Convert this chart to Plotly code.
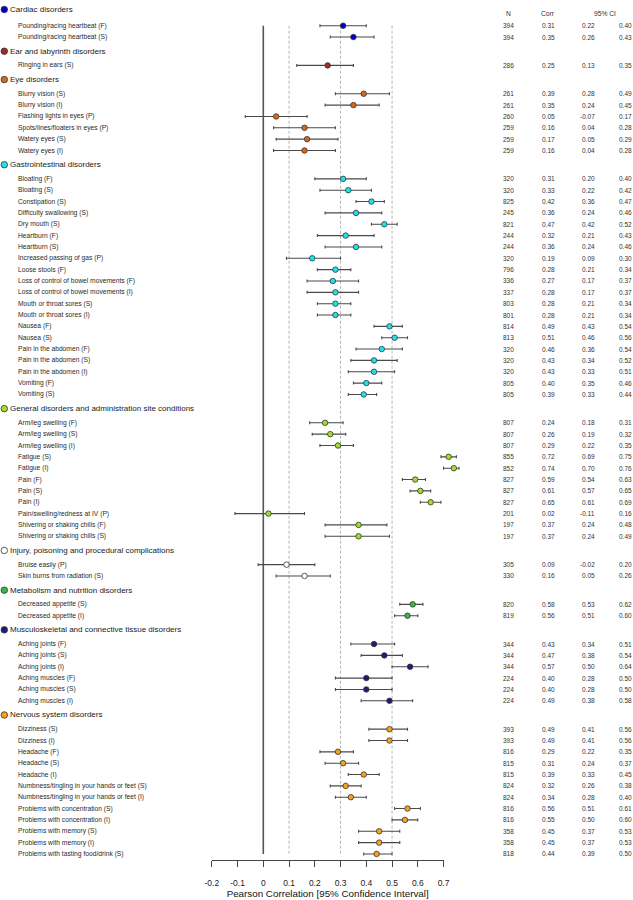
import plotly.graph_objects as go

# ---------------- data ----------------
GROUPS = [
    "Cardiac disorders",
    "Ear and labyrinth disorders",
    "Eye disorders",
    "Gastrointestinal disorders",
    "General disorders and administration site conditions",
    "Injury, poisoning and procedural complications",
    "Metabolism and nutrition disorders",
    "Musculoskeletal and connective tissue disorders",
    "Nervous system disorders",
]
GROUP_COLORS = ["#0000cd", "#9e2a2b", "#d2691e", "#1ee3ea", "#a4dc2c",
                "#ffffff", "#3cb54a", "#1c1c7a", "#f5a21c"]

ITEM_GROUP = [0, 0,
              1,
              2, 2, 2, 2, 2, 2,
              3, 3, 3, 3, 3, 3, 3, 3, 3, 3, 3, 3, 3, 3, 3, 3, 3, 3, 3, 3,
              4, 4, 4, 4, 4, 4, 4, 4, 4, 4, 4,
              5, 5,
              6, 6,
              7, 7, 7, 7, 7, 7,
              8, 8, 8, 8, 8, 8, 8, 8, 8, 8, 8, 8]

ITEM_LABELS = [
    "Pounding/racing heartbeat (F)", "Pounding/racing heartbeat (S)",
    "Ringing in ears (S)",
    "Blurry vision (S)", "Blurry vision (I)", "Flashing lights in eyes (P)",
    "Spots/lines/floaters in eyes (P)", "Watery eyes (S)", "Watery eyes (I)",
    "Bloating (F)", "Bloating (S)", "Constipation (S)", "Difficulty swallowing (S)",
    "Dry mouth (S)", "Heartburn (F)", "Heartburn (S)", "Increased passing of gas (P)",
    "Loose stools (F)", "Loss of control of bowel movements (F)",
    "Loss of control of bowel movements (I)", "Mouth or throat sores (S)",
    "Mouth or throat sores (I)", "Nausea (F)", "Nausea (S)",
    "Pain in the abdomen (F)", "Pain in the abdomen (S)", "Pain in the abdomen (I)",
    "Vomiting (F)", "Vomiting (S)",
    "Arm/leg swelling (F)", "Arm/leg swelling (S)", "Arm/leg swelling (I)",
    "Fatigue (S)", "Fatigue (I)", "Pain (F)", "Pain (S)", "Pain (I)",
    "Pain/swelling/redness at IV (P)", "Shivering or shaking chills (F)",
    "Shivering or shaking chills (S)",
    "Bruise easily (P)", "Skin burns from radiation (S)",
    "Decreased appetite (S)", "Decreased appetite (I)",
    "Aching joints (F)", "Aching joints (S)", "Aching joints (I)",
    "Aching muscles (F)", "Aching muscles (S)", "Aching muscles (I)",
    "Dizziness (S)", "Dizziness (I)", "Headache (F)", "Headache (S)", "Headache (I)",
    "Numbness/tingling in your hands or feet (S)",
    "Numbness/tingling in your hands or feet (I)",
    "Problems with concentration (S)", "Problems with concentration (I)",
    "Problems with memory (S)", "Problems with memory (I)",
    "Problems with tasting food/drink (S)",
]

N_VALUES = [394, 394,
            286,
            261, 261, 260, 259, 259, 259,
            320, 320, 825, 245, 821, 244, 244, 320, 796, 336, 337, 803, 801,
            814, 813, 320, 320, 320, 805, 805,
            807, 807, 807, 855, 852, 827, 827, 827, 201, 197, 197,
            305, 330,
            820, 819,
            344, 344, 344, 224, 224, 224,
            393, 393, 816, 815, 815, 824, 824, 816, 816, 358, 358, 818]

CORR = [0.31, 0.35,
        0.25,
        0.39, 0.35, 0.05, 0.16, 0.17, 0.16,
        0.31, 0.33, 0.42, 0.36, 0.47, 0.32, 0.36, 0.19, 0.28, 0.27, 0.28, 0.28, 0.28,
        0.49, 0.51, 0.46, 0.43, 0.43, 0.40, 0.39,
        0.24, 0.26, 0.29, 0.72, 0.74, 0.59, 0.61, 0.65, 0.02, 0.37, 0.37,
        0.09, 0.16,
        0.58, 0.56,
        0.43, 0.47, 0.57, 0.40, 0.40, 0.49,
        0.49, 0.49, 0.29, 0.31, 0.39, 0.32, 0.34, 0.56, 0.55, 0.45, 0.45, 0.44]

CI_LOW = [0.22, 0.26,
          0.13,
          0.28, 0.24, -0.07, 0.04, 0.05, 0.04,
          0.20, 0.22, 0.36, 0.24, 0.42, 0.21, 0.24, 0.09, 0.21, 0.17, 0.17, 0.21, 0.21,
          0.43, 0.46, 0.36, 0.34, 0.33, 0.35, 0.33,
          0.18, 0.19, 0.22, 0.69, 0.70, 0.54, 0.57, 0.61, -0.11, 0.24, 0.24,
          -0.02, 0.05,
          0.53, 0.51,
          0.34, 0.38, 0.50, 0.28, 0.28, 0.38,
          0.41, 0.41, 0.22, 0.24, 0.33, 0.26, 0.28, 0.51, 0.50, 0.37, 0.37, 0.39]

CI_HIGH = [0.40, 0.43,
           0.35,
           0.49, 0.45, 0.17, 0.28, 0.29, 0.28,
           0.40, 0.42, 0.47, 0.46, 0.52, 0.43, 0.46, 0.30, 0.34, 0.37, 0.37, 0.34, 0.34,
           0.54, 0.56, 0.54, 0.52, 0.51, 0.46, 0.44,
           0.31, 0.32, 0.35, 0.75, 0.76, 0.63, 0.65, 0.69, 0.16, 0.48, 0.49,
           0.20, 0.26,
           0.62, 0.60,
           0.51, 0.54, 0.64, 0.50, 0.50, 0.58,
           0.56, 0.56, 0.35, 0.37, 0.45, 0.38, 0.40, 0.61, 0.60, 0.53, 0.53, 0.50]

TICK_VALUES = [-0.2, -0.1, 0.0, 0.1, 0.2, 0.3, 0.4, 0.5, 0.6, 0.7]
TICK_LABELS = ["-0.2", "-0.1", "0", "0.1", "0.2", "0.3", "0.4", "0.5", "0.6", "0.7"]
REF_LINES = [0.1, 0.3, 0.5]
TABLE_HEADERS = ["N", "Corr", "95% CI"]
AXIS_TITLE = "Pearson Correlation [95% Confidence Interval]"

# ---------------- layout geometry (pixels) ----------------
W, H = 633, 900
X0_PX = 263.3          # pixel of correlation 0
X_SCALE = 257.5        # pixels per 1.0 correlation
ROW0_PX = 25.7         # pixel of first item row
ROW_PX = 11.346        # pixels per row
AXIS_PX = 860          # pixel of bottom axis line
FONT = "Liberation Sans, Arial, sans-serif"


def px_x(v):
    return X0_PX + v * X_SCALE


def xv(p):
    return (p - X0_PX) / X_SCALE


def u_from_px(p):
    return (p - ROW0_PX) / ROW_PX


# row positions
rows, header_rows = [], []
u = 0.0
for i, g in enumerate(ITEM_GROUP):
    if i == 0:
        u = 0.0
        header_rows.append(u - 1.43)
    elif g != ITEM_GROUP[i - 1]:
        u += 2.5
        header_rows.append(u - 1.25)
    else:
        u += 1.0
    rows.append(u)

fig = go.Figure()

# error bars + points per group
for gi, gname in enumerate(GROUPS):
    idx = [i for i, g in enumerate(ITEM_GROUP) if g == gi]
    fig.add_trace(go.Scatter(
        x=[CORR[i] for i in idx],
        y=[rows[i] for i in idx],
        mode="markers",
        marker=dict(size=5.5, color=GROUP_COLORS[gi],
                    line=dict(color="#333333", width=0.8)),
        error_x=dict(type="data", symmetric=False,
                     array=[round(CI_HIGH[i] - CORR[i], 4) for i in idx],
                     arrayminus=[round(CORR[i] - CI_LOW[i], 4) for i in idx],
                     color="#4a4a4a", thickness=1.1, width=1.5),
        showlegend=False, hoverinfo="skip",
    ))

# header dots
HEADER_DOT_PX = 4.3
fig.add_trace(go.Scatter(
    x=[xv(HEADER_DOT_PX)] * len(GROUPS),
    y=header_rows,
    mode="markers",
    marker=dict(size=6.5, color=GROUP_COLORS, line=dict(color="#333333", width=0.8)),
    showlegend=False, hoverinfo="skip",
))

# dummy trace for the display axis
fig.add_trace(go.Scatter(
    x=[TICK_VALUES[0], TICK_VALUES[-1]], y=[rows[0], rows[0]],
    xaxis="x2", yaxis="y", mode="markers",
    marker=dict(opacity=0), showlegend=False, hoverinfo="skip",
))

shapes = [dict(type="line", xref="x", yref="y", x0=0, x1=0,
               y0=rows[0], y1=rows[-1],
               line=dict(color="#555555", width=1.6), layer="below")]
for v in REF_LINES:
    shapes.append(dict(type="line", xref="x", yref="y", x0=v, x1=v,
                       y0=rows[0], y1=rows[-1],
                       line=dict(color="#b4b4b4", width=1, dash="3px,2px"),
                       layer="below"))

ann = []
# group headers
for gi, gname in enumerate(GROUPS):
    ann.append(dict(x=xv(9.6), xref="x", y=header_rows[gi], yref="y",
                    text=gname, showarrow=False, xanchor="left", yanchor="middle",
                    borderpad=0, borderwidth=0,
                    font=dict(family=FONT, size=8.0, color="#1a1a1a")))
# item labels and table
COL_RIGHT_PX = [513.5, 554.5, 594.5, 632.0]
for i, lab in enumerate(ITEM_LABELS):
    ann.append(dict(x=xv(17.6), xref="x", y=rows[i], yref="y",
                    text=lab, showarrow=False, xanchor="left", yanchor="middle",
                    borderpad=0, borderwidth=0,
                    font=dict(family=FONT, size=6.7, color="#2a2a2a")))
    vals = [str(N_VALUES[i]), f"{CORR[i]:.2f}", f"{CI_LOW[i]:.2f}", f"{CI_HIGH[i]:.2f}"]
    for txt, xr in zip(vals, COL_RIGHT_PX):
        ann.append(dict(x=xv(xr), xref="x", y=rows[i], yref="y",
                        text=txt, showarrow=False, xanchor="right", yanchor="middle",
                        borderpad=0, borderwidth=0,
                        font=dict(family=FONT, size=6.5, color="#333333")))
# table headers
HEADER_CENTER_PX = [508.5, 547.5, 605.0]
for txt, xc in zip(TABLE_HEADERS, HEADER_CENTER_PX):
    ann.append(dict(x=xv(xc), xref="x", y=u_from_px(13.8), yref="y",
                    text=txt, showarrow=False, xanchor="center", yanchor="middle",
                    borderpad=0, borderwidth=0,
                    font=dict(family=FONT, size=6.7, color="#333333")))

fig.update_layout(
    width=W, height=H, autosize=False,
    margin=dict(l=0, r=0, t=0, b=0, pad=0, autoexpand=False),
    paper_bgcolor="white", plot_bgcolor="rgba(0,0,0,0)",
    font=dict(family=FONT),
    showlegend=False,
    shapes=shapes, annotations=ann,
    xaxis=dict(domain=[0, 1], range=[xv(0), xv(W)],
               visible=False, fixedrange=True),
    yaxis=dict(domain=[0, 1], range=[u_from_px(H), u_from_px(0)],
               visible=False, fixedrange=True),
    xaxis2=dict(domain=[px_x(TICK_VALUES[0]) / W, px_x(TICK_VALUES[-1]) / W],
                range=[TICK_VALUES[0], TICK_VALUES[-1]],
                anchor="free", position=(H - AXIS_PX) / H, side="bottom",
                showline=True, linecolor="#444444", linewidth=1,
                ticks="outside", ticklen=6, tickwidth=1, tickcolor="#444444",
                tickmode="array", tickvals=TICK_VALUES, ticktext=TICK_LABELS,
                tickfont=dict(family=FONT, size=8.5, color="#222222"),
                ticklabelstandoff=9,
                showgrid=False, zeroline=False, fixedrange=True, automargin=False,
                title=dict(text=AXIS_TITLE, standoff=1,
                           font=dict(family=FONT, size=9.8, color="#111111"))),
)

fig.write_html(
    "out.html",
    config={"displayModeBar": False, "staticPlot": True},
    post_script="document.body.style.margin='0';document.body.style.overflow='hidden';",
)
